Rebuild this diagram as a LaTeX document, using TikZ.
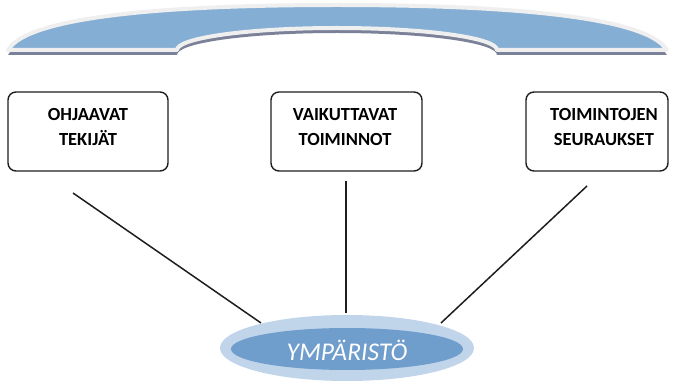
\documentclass[tikz,border=0pt]{standalone}
\usepackage{fontspec}
\setmainfont{Carlito}[BoldFont={* Bold}, ItalicFont={* Italic}]
\definecolor{bandblue}{HTML}{84AED4}
\definecolor{rimgray}{HTML}{EFEFEF}
\definecolor{shadowgray}{HTML}{7B8198}
\definecolor{ringblue}{HTML}{C0D4EA}
\definecolor{coreblue}{HTML}{6F9DCC}
\definecolor{linegray}{HTML}{1E1E1E}
\tikzset{
  boxframe/.style={draw=linegray, line width=1.4pt, rounded corners=8pt},
  boxtext/.style={font=\fontsize{18.5}{25}\selectfont\bfseries, align=center, text=black},
  link/.style={draw=linegray, line width=1.5pt}
}
\begin{document}
\begin{tikzpicture}[x=1pt,y=-1pt]
\useasboundingbox (0,0) rectangle (673,382);
% top band
\def\bandpath{(8,50) .. controls (28,16) and (170,5) .. (337,5) .. controls (504,5) and (646,16) .. (667,50) -- (497,50) arc[start angle=0, end angle=-180, x radius=160, y radius=22] -- cycle}
\fill[shadowgray, yshift=-5pt] \bandpath;
\filldraw[fill=bandblue, draw=rimgray, line width=4pt, line join=round] \bandpath;
% boxes
\path[boxframe] (8,92) rectangle (168,171) node[pos=0.5,inner sep=0] (b1) {};
\path[boxframe] (271,92) rectangle (422,171) node[pos=0.5,inner sep=0] (b2) {};
\path[boxframe] (526,92) rectangle (668,171) node[pos=0.5,inner sep=0] (b3) {};
\node[boxtext] (t1) at (88,127) {OHJAAVAT\\TEKIJÄT};
\node[boxtext] (t2) at (345,127) {VAIKUTTAVAT\\TOIMINNOT};
\node[boxtext] (t3) at (604,127) {TOIMINTOJEN\\SEURAUKSET};
% connector end points
\coordinate (s1) at (73,193);
\coordinate (s2) at (346,181);
\coordinate (s3) at (587,186);
\coordinate (e1) at (261,323);
\coordinate (e2) at (346,313);
\coordinate (e3) at (441,323);
\draw[link] (s1) -- (e1);
\draw[link] (s2) -- (e2);
\draw[link] (s3) -- (e3);
% environment ellipse
\fill[ringblue] (347,348) ellipse[x radius=127, y radius=33];
\fill[coreblue] (347,349) ellipse[x radius=116, y radius=21];
\node[font=\fontsize{25.5}{30}\selectfont\itshape, text=white] (env) at (347,350) {YMPÄRISTÖ};
\end{tikzpicture}
\end{document}
